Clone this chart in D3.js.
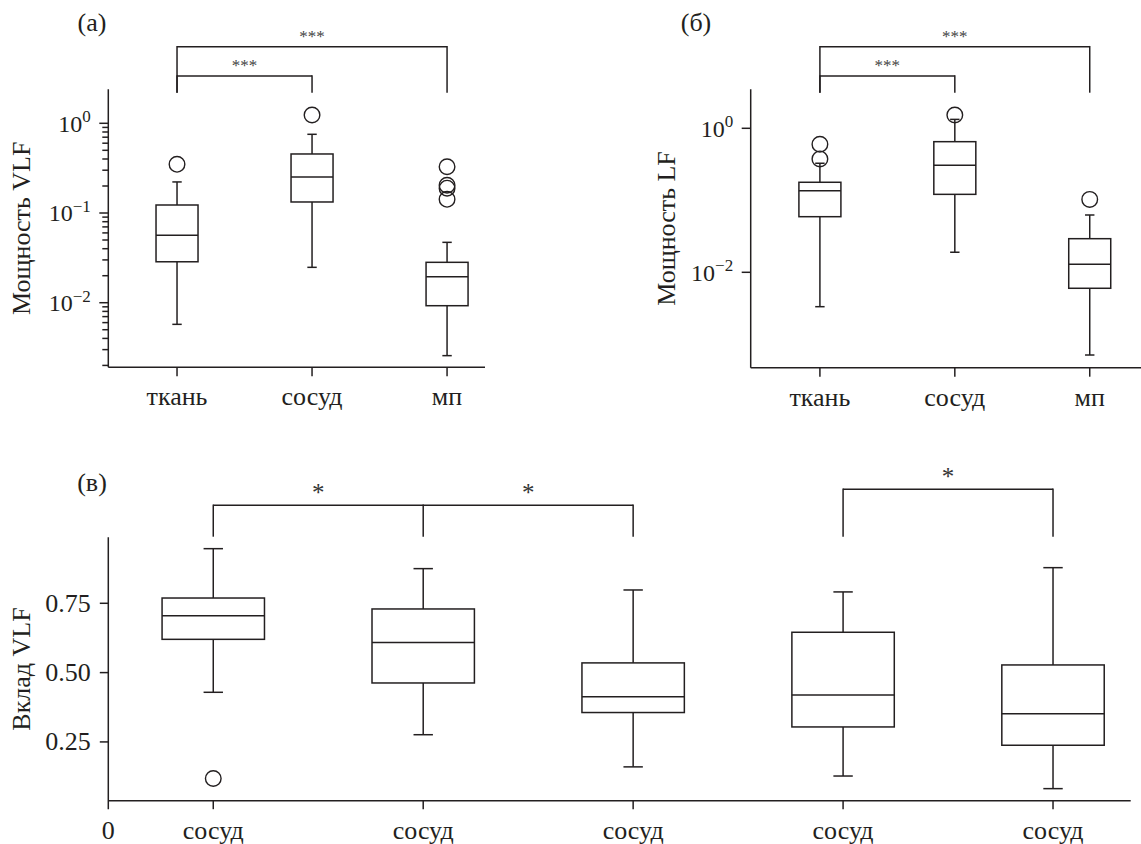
<!DOCTYPE html>
<html><head><meta charset="utf-8">
<script src="https://cdn.jsdelivr.net/npm/d3@7"></script>
<style>
body{margin:0;background:#fff}
text{font-family:"Liberation Serif","Times New Roman",serif;fill:#231f20}
</style>
</head><body>
<script>
// ---------- data ----------
const catsTop = ["ткань", "сосуд", "мп"];
// (а) Мощность VLF
const vlfLow  = [0.00574, 0.0248, 0.00257];
const vlfQ1   = [0.0286, 0.1327, 0.00926];
const vlfMed  = [0.0564, 0.252, 0.0195];
const vlfQ3   = [0.1228, 0.455, 0.0282];
const vlfHigh = [0.222, 0.754, 0.0471];
const vlfOut  = [[0.349], [1.237], [0.328, 0.204, 0.189, 0.142]];
// (б) Мощность LF
const lfLow  = [0.00333, 0.0190, 0.00071];
const lfQ1   = [0.0592, 0.121, 0.0060];
const lfMed  = [0.136, 0.306, 0.0129];
const lfQ3   = [0.178, 0.652, 0.0293];
const lfHigh = [0.327, 1.33, 0.0625];
const lfOut  = [[0.600, 0.375], [1.53], [0.103]];
// (в) Вклад VLF
const catsBottom = ["сосуд", "сосуд", "сосуд", "сосуд", "сосуд"];
const posBottom  = [1, 3, 5, 7, 9];
const cLow  = [0.429, 0.276, 0.160, 0.127, 0.0815];
const cQ1   = [0.620, 0.4626, 0.356, 0.304, 0.238];
const cMed  = [0.705, 0.609, 0.413, 0.419, 0.352];
const cQ3   = [0.769, 0.7295, 0.535, 0.6455, 0.5276];
const cHigh = [0.947, 0.875, 0.798, 0.791, 0.8785];
const cOut  = [[0.118], [], [], [], []];
// tick labels
const logMajorA = [1e-2, 1e-1, 1e0];
const logMajorB = [1e-2, 1e0];
const linTicksC = [0.25, 0.50, 0.75];
const linTickLabelsC = ["0.25", "0.50", "0.75"];
// significance
const sigA = [{a: 0, b: 1, label: "***", level: 1}, {a: 0, b: 2, label: "***", level: 0}];
const sigB = [{a: 0, b: 1, label: "***", level: 1}, {a: 0, b: 2, label: "***", level: 0}];
const sigC = [{a: 0, b: 1, label: "*"}, {a: 1, b: 2, label: "*"}, {a: 3, b: 4, label: "*"}];

// ---------- drawing ----------
const INK = "#231f20";
const SW = 1.5;
const svg = d3.select("body").append("svg").attr("width", 1141).attr("height", 844);

function line(g, x1, y1, x2, y2) {
  g.append("line").attr("x1", x1).attr("y1", y1).attr("x2", x2).attr("y2", y2)
    .attr("stroke", INK).attr("stroke-width", SW);
}

function boxes(g, x, y, pos, lo, q1, med, q3, hi, outs, halfW, capHalf) {
  pos.forEach((p, i) => {
    const cx = x(p);
    line(g, cx, y(hi[i]), cx, y(q3[i]));
    line(g, cx, y(q1[i]), cx, y(lo[i]));
    line(g, cx - capHalf, y(hi[i]), cx + capHalf, y(hi[i]));
    line(g, cx - capHalf, y(lo[i]), cx + capHalf, y(lo[i]));
    g.append("rect").attr("x", cx - halfW).attr("y", y(q3[i]))
      .attr("width", 2 * halfW).attr("height", y(q1[i]) - y(q3[i]))
      .attr("fill", "#fff").attr("stroke", INK).attr("stroke-width", SW);
    line(g, cx - halfW, y(med[i]), cx + halfW, y(med[i]));
    outs[i].forEach(v => {
      g.append("circle").attr("cx", cx).attr("cy", y(v)).attr("r", 7.8)
        .attr("fill", "none").attr("stroke", INK).attr("stroke-width", 1.4);
    });
  });
}

function logPanel(cfg) {
  const g = svg.append("g");
  const x = d3.scaleLinear().domain(cfg.xDomain).range(cfg.xRange);
  const y = d3.scaleLog().domain(cfg.yDomain).range(cfg.yRange);
  const x0 = cfg.xRange[0];
  line(g, x0, cfg.yRange[0], x0, cfg.yRange[1]);
  line(g, cfg.xRange[0], cfg.yRange[0], cfg.xRange[1], cfg.yRange[0]);
  if (cfg.minor) {
    y.ticks().filter(v => v <= 1 && !cfg.majors.some(m => Math.abs(m - v) / m < 1e-6))
      .forEach(v => line(g, x0 - 6, y(v), x0, y(v)));
  }
  cfg.majors.forEach(v => {
    line(g, x0 - 9, y(v), x0, y(v));
    const t = g.append("text").attr("x", x0 - 17.5).attr("y", y(v) + 8.3)
      .attr("text-anchor", "end").attr("font-size", 24);
    t.append("tspan").text("10");
    t.append("tspan").attr("font-size", 17).attr("dy", -9.5)
      .text(String(Math.round(Math.log10(v))).replace("-", "\u2212"));
  });
  cfg.cats.forEach((c, i) => {
    const cx = x(i + 1);
    line(g, cx, cfg.yRange[0], cx, cfg.yRange[0] + 9);
    g.append("text").attr("x", cx).attr("y", cfg.yRange[0] + 38)
      .attr("text-anchor", "middle").attr("font-size", 26).text(c);
  });
  boxes(g, x, y, [1, 2, 3], cfg.lo, cfg.q1, cfg.med, cfg.q3, cfg.hi, cfg.outs, 21, 4.7);
  const levels = [46.7, 76], legEnd = 92.7;
  cfg.sig.forEach(s => {
    const yy = levels[s.level];
    const xa = x(s.a + 1), xb = x(s.b + 1);
    line(g, xa, yy, xb, yy);
    line(g, xa, yy - 0.75, xa, legEnd);
    line(g, xb, yy - 0.75, xb, legEnd);
    g.append("text").attr("x", (xa + xb) / 2).attr("y", yy - 5)
      .attr("text-anchor", "middle").attr("font-size", 17).style("fill", "#444").text(s.label);
  });
  g.append("text").attr("transform", `translate(${cfg.ylabX},${(cfg.yRange[0] + cfg.yRange[1]) / 2}) rotate(-90)`)
    .attr("text-anchor", "middle").attr("font-size", 26).text(cfg.ylabel);
  g.append("text").attr("x", cfg.letterX).attr("y", 31).attr("text-anchor", "middle")
    .attr("font-size", 26).text(cfg.letter);
}

logPanel({
  xDomain: [0.491, 3.281], xRange: [108.3, 485],
  yDomain: [Math.pow(10, -2.72), Math.pow(10, 0.379)], yRange: [367.3, 89.3],
  majors: logMajorA, minor: true, cats: catsTop,
  lo: vlfLow, q1: vlfQ1, med: vlfMed, q3: vlfQ3, hi: vlfHigh, outs: vlfOut,
  sig: sigA, ylabel: "Мощность VLF", ylabX: 30, letter: "(а)", letterX: 92
});
logPanel({
  xDomain: [0.487, 3.38], xRange: [750.7, 1141],
  yDomain: [Math.pow(10, -3.325), Math.pow(10, 0.5417)], yRange: [367.7, 89.3],
  majors: logMajorB, minor: false, cats: catsTop,
  lo: lfLow, q1: lfQ1, med: lfMed, q3: lfQ3, hi: lfHigh, outs: lfOut,
  sig: sigB, ylabel: "Мощность LF", ylabX: 675, letter: "(б)", letterX: 696
});

// panel (в)
(function () {
  const g = svg.append("g");
  const x = d3.scaleLinear().domain([0, 9.74]).range([108.3, 1130.7]);
  const y = d3.scaleLinear().domain([0.038, 0.988]).range([800.7, 537.3]);
  const x0 = x(0), yb = y(0.038);
  line(g, x0, y(0.988), x0, yb + 8.5);
  line(g, x0, yb, x(9.74), yb);
  linTicksC.forEach((v, i) => {
    line(g, x0 - 8.5, y(v), x0, y(v));
    g.append("text").attr("x", x0 - 17.5).attr("y", y(v) + 8.4).attr("text-anchor", "end")
      .attr("font-size", 26).text(linTickLabelsC[i]);
  });
  g.append("text").attr("x", x0).attr("y", yb + 38.3).attr("text-anchor", "middle")
    .attr("font-size", 26).text("0");
  posBottom.forEach((p, i) => {
    line(g, x(p), yb, x(p), yb + 8.5);
    g.append("text").attr("x", x(p)).attr("y", yb + 38.3).attr("text-anchor", "middle")
      .attr("font-size", 26).text(catsBottom[i]);
  });
  boxes(g, x, y, posBottom, cLow, cQ1, cMed, cQ3, cHigh, cOut, 51.2, 9.7);
  const legEnd = 536.7;
  const yL = 505.3, yR = 489.3;
  line(g, x(posBottom[0]), yL, x(posBottom[2]), yL);
  [0, 1, 2].forEach(k => line(g, x(posBottom[k]), yL - 0.75, x(posBottom[k]), legEnd));
  line(g, x(posBottom[3]), yR, x(posBottom[4]), yR);
  [3, 4].forEach(k => line(g, x(posBottom[k]), yR - 0.75, x(posBottom[k]), legEnd));
  sigC.forEach(s => {
    const yy = s.a >= 3 ? yR : yL;
    g.append("text").attr("x", (x(posBottom[s.a]) + x(posBottom[s.b])) / 2).attr("y", yy - 4)
      .attr("text-anchor", "middle").attr("font-size", 25).style("fill", "#333").text(s.label);
  });
  g.append("text").attr("transform", `translate(30,669) rotate(-90)`)
    .attr("text-anchor", "middle").attr("font-size", 26).text("Вклад VLF");
  g.append("text").attr("x", 92).attr("y", 491).attr("text-anchor", "middle")
    .attr("font-size", 26).text("(в)");
})();
</script>
</body></html>
